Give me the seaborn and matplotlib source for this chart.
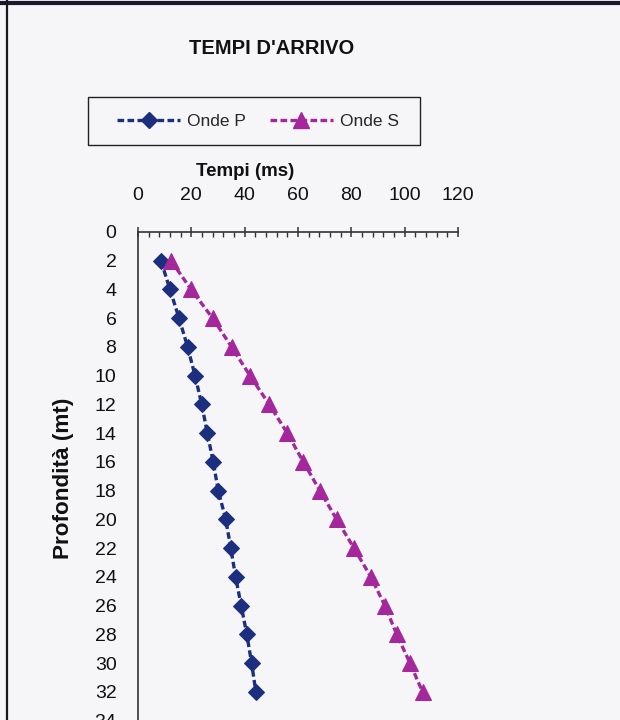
import pandas as pd
import numpy as np
import seaborn as sns
import matplotlib.pyplot as plt
from matplotlib.lines import Line2D
from matplotlib.patches import Rectangle
from matplotlib.ticker import MultipleLocator

# data
profondita = [2, 4, 6, 8, 10, 12, 14, 16, 18, 20, 22, 24, 26, 28, 30, 32]
onde_p = [8.6, 12.0, 15.4, 18.6, 21.4, 23.9, 26.0, 28.2, 30.1, 32.9, 34.8, 36.6, 38.7, 40.8, 42.6, 44.2]
onde_s = [12.4, 19.9, 28.0, 35.1, 42.0, 49.2, 56.0, 62.0, 68.2, 74.5, 81.0, 87.3, 92.6, 97.0, 102.0, 106.7]
serie = ["Onde P", "Onde S"]
colori = {"Onde P": "#1c2f7e", "Onde S": "#a4279c"}

data = pd.DataFrame({
    "Tempi": onde_p + onde_s,
    "Profondita": profondita * 2,
    "Onda": [serie[0]] * len(onde_p) + [serie[1]] * len(onde_s),
})

sns.set_theme(style="white")
plt.rcParams["font.family"] = ["Liberation Sans", "DejaVu Sans"]
bg = "#f6f6f8"

fig = plt.figure(figsize=(6.2, 7.2), dpi=100, facecolor=bg)
# axes placed in pixels: top at 232 px, 14.37 px per metre, 0..36 m
ax = fig.add_axes([138 / 620, (720 - 232 - 36 * 14.37) / 720, 320 / 620, 36 * 14.37 / 720])
ax.set_facecolor(bg)

sns.lineplot(data=data, x="Tempi", y="Profondita", hue="Onda", style="Onda",
             palette=colori, markers={"Onde P": "D", "Onde S": "^"},
             dashes={"Onde P": (2, 1), "Onde S": (2, 1)},
             orient="y", estimator=None, sort=False, linewidth=2.4,
             ax=ax, legend=False)

# seaborn gives white marker edges, use the line colour instead
for line in ax.lines:
    line.set_markeredgecolor(line.get_color())
    line.set_markerfacecolor(line.get_color())
    line.set_markersize(8.5 if line.get_marker() == "D" else 11)

ax.set_xlim(0, 120)
ax.set_ylim(36, 0)
ax.xaxis.tick_top()
ax.xaxis.set_label_position("top")
ax.xaxis.set_major_locator(MultipleLocator(20))
ax.xaxis.set_minor_locator(MultipleLocator(4))
ax.yaxis.set_major_locator(MultipleLocator(2))
ax.yaxis.set_minor_locator(MultipleLocator(1))

for side in ["right", "bottom"]:
    ax.spines[side].set_visible(False)
for side in ["left", "top"]:
    ax.spines[side].set_color("#333333")
    ax.spines[side].set_linewidth(1.2)

ax.tick_params(which="major", direction="inout", length=7, width=1.1, color="#333333",
               labelsize=14, labelcolor="#111111")
ax.tick_params(which="minor", direction="in", length=3.5, width=1.0, color="#333333")
ax.tick_params(axis="x", which="major", top=True, bottom=False, pad=17)
ax.tick_params(axis="x", which="minor", top=True, bottom=False)
ax.tick_params(axis="y", which="major", pad=12)

ax.set_xlabel("Tempi (ms)", fontsize=13.5, fontweight="bold", color="#111111")
ax.xaxis.set_label_coords((245 - 138) / 320, 1 + 60 / (36 * 14.37))
ax.xaxis.label.set_va("center")
ax.set_ylabel("Profondità (mt)", fontsize=16.2, fontweight="bold", color="#111111")
ax.yaxis.set_label_coords((64 - 138) / 320, 1 - (478 - 232) / (36 * 14.37))
ax.yaxis.label.set_va("center")

fig.text(272 / 620, 1 - 48 / 720, "TEMPI D'ARRIVO", ha="center", va="center",
         fontsize=14.5, fontweight="bold", color="#111111")

handles = [
    Line2D([], [], color=colori["Onde P"], ls=(0, (2, 1)), lw=2.4, marker="D",
           markersize=8.5, markeredgecolor=colori["Onde P"]),
    Line2D([], [], color=colori["Onde S"], ls=(0, (2, 1)), lw=2.4, marker="^",
           markersize=11, markeredgecolor=colori["Onde S"]),
]
fig.legend(handles, serie, loc="center", bbox_to_anchor=(258 / 620, 1 - 121 / 720),
           ncol=2, fontsize=12.5, frameon=False,
           handlelength=3.6, handletextpad=0.4, columnspacing=1.4)
# legend box drawn separately so its padding matches the Excel frame
fig.add_artist(Rectangle((88 / 620, 1 - 145 / 720), 332 / 620, 48 / 720,
                         transform=fig.transFigure, fill=False,
                         edgecolor="#222222", lw=1.0))

# outer chart border (left and top visible in the crop)
fig.add_artist(Line2D([0, 1], [1 - 2.5 / 720] * 2, color="#1a1a2a", lw=3.0,
                      transform=fig.transFigure))
fig.add_artist(Line2D([7 / 620] * 2, [0, 1], color="#1a1a1a", lw=1.6,
                      transform=fig.transFigure))

fig.savefig("out.png", dpi=100, facecolor=bg)
